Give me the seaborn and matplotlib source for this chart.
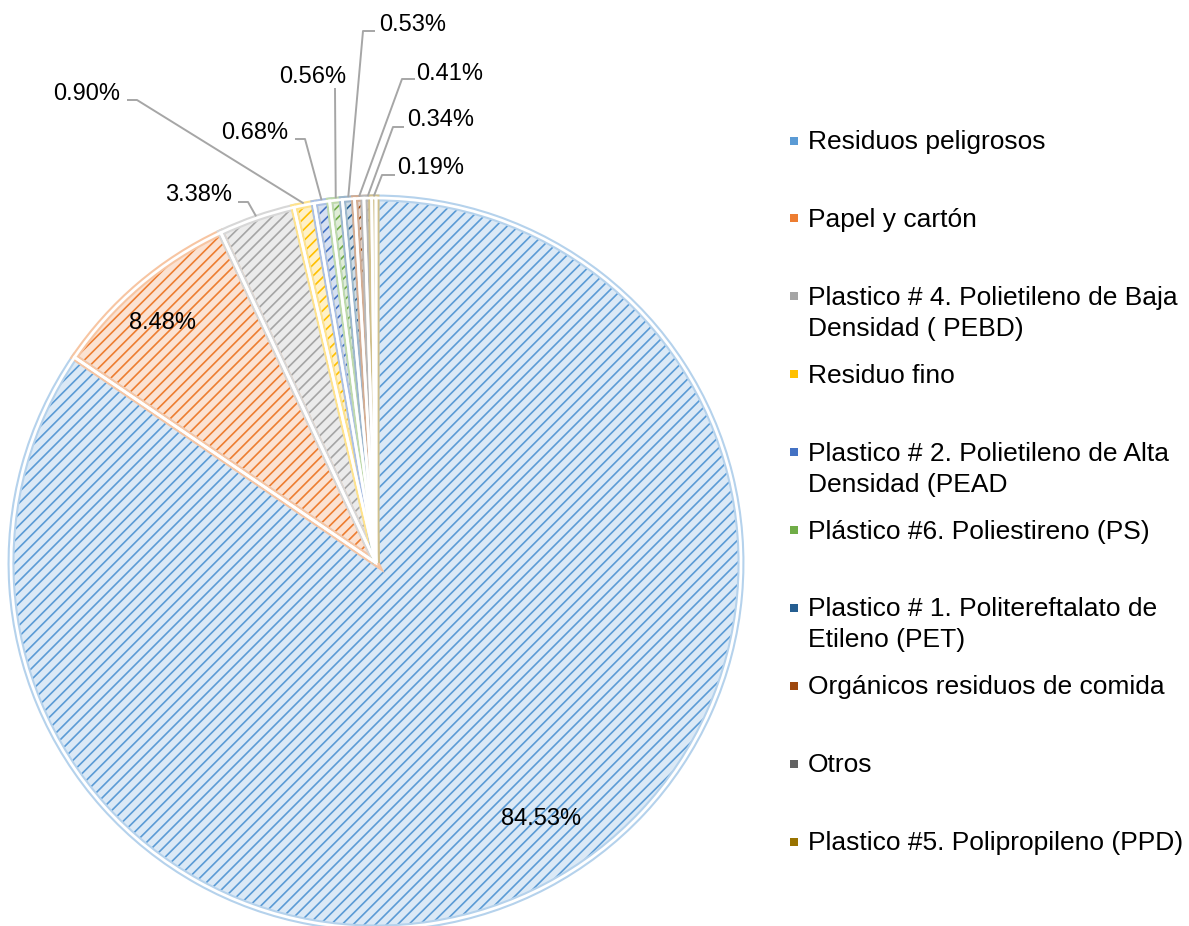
import numpy as np
import matplotlib
matplotlib.use("Agg")
import matplotlib.pyplot as plt
import seaborn as sns
from matplotlib.colors import to_rgb

# ---------------- data ----------------
categories = [
    "Residuos peligrosos",
    "Papel y cartón",
    "Plastico # 4. Polietileno de Baja\nDensidad ( PEBD)",
    "Residuo fino",
    "Plastico # 2. Polietileno de Alta\nDensidad (PEAD",
    "Plástico #6. Poliestireno (PS)",
    "Plastico # 1. Politereftalato de\nEtileno (PET)",
    "Orgánicos residuos de comida",
    "Otros",
    "Plastico #5. Polipropileno (PPD)",
]
values = [84.53, 8.48, 3.38, 0.90, 0.68, 0.56, 0.53, 0.41, 0.34, 0.19]
value_labels = ["84.53%", "8.48%", "3.38%", "0.90%", "0.68%", "0.56%",
                "0.53%", "0.41%", "0.34%", "0.19%"]
colors = ["#5B9BD5", "#ED7D31", "#A5A5A5", "#FFC000", "#4472C4",
          "#70AD47", "#255E91", "#9E480E", "#636363", "#997300"]

# ---------------- layout (pixels) ----------------
W, H, DPI = 1189, 926, 100
CX, CY, R = 376, 563, 365

# label centres (px) and leader line (text end, elbow) for outside labels
label_px = [(541, 817), (163, 321), (199, 193), (87, 92), (255, 131),
            (313, 75), (413, 23), (450, 72), (441, 118), (431, 166)]
leader_px = {2: [(238, 202), (248, 202)],
             3: [(127, 100), (137, 100)],
             4: [(295, 139), (305, 139)],
             5: [(335, 88), (335, 89)],
             6: [(375, 31), (363, 31)],
             7: [(415, 79), (402, 79)],
             8: [(404, 127), (393, 127)],
             9: [(395, 175), (382, 175)]}

LEG_X_MARK, LEG_X_TEXT = 794, 808
LEG_BASE0, LEG_STEP, LEG_LINE = 149, 77.9, 31


def P(px, py):
    return (px - CX) / R, (CY - py) / R


sns.set_style("white")
plt.rcParams["font.family"] = ["Liberation Sans", "DejaVu Sans"]
plt.rcParams["hatch.linewidth"] = 1.2

pal = sns.color_palette(colors)
tints = [tuple(0.22 * np.array(to_rgb(c)) + 0.78) for c in pal]
bands = [tuple(0.45 * np.array(to_rgb(c)) + 0.55) for c in pal]

fig = plt.figure(figsize=(W / DPI, H / DPI), dpi=DPI)
ax = fig.add_axes([0, 0, 1, 1])

wedges, _ = ax.pie(values, colors=tints, startangle=90, counterclock=False,
                   radius=1, center=(0, 0), wedgeprops=dict(linewidth=0))
for w, c in zip(wedges, pal):
    w.set_hatch("///")
    w.set_edgecolor(c)
    w.set_linewidth(0)
# light band along the inside of each wedge edge
band_w, _ = ax.pie(values, startangle=90, counterclock=False, radius=1,
                   wedgeprops=dict(fill=False, linewidth=5))
for w, wb, c in zip(wedges, band_w, bands):
    wb.set_edgecolor(c)
    wb.set_clip_path(w)
ax.pie(values, startangle=90, counterclock=False, radius=1,
       wedgeprops=dict(fill=False, edgecolor="white", linewidth=2.0))

# labels and leader lines
vals = np.array(values)
cum = np.cumsum(vals)
mid = np.deg2rad(90 - 360 * (cum - vals / 2) / vals.sum())
for i, lab in enumerate(value_labels):
    tx, ty = P(label_px[i][0], label_px[i][1] + 8.4)
    ax.text(tx, ty, lab, ha="center", va="baseline", fontsize=17, color="#000000")
    if i in leader_px:
        (ex, ey), (bx, by) = [P(*p) for p in leader_px[i]]
        wx, wy = np.cos(mid[i]) * 1.005, np.sin(mid[i]) * 1.005
        ax.plot([ex, bx, wx], [ey, by, wy], color="#A6A6A6", lw=1.4,
                solid_capstyle="butt", zorder=1)

# legend drawn manually (Excel-like evenly spaced slots)
for i, (cat, c) in enumerate(zip(categories, pal)):
    base = LEG_BASE0 + LEG_STEP * i
    mx, my = P(LEG_X_MARK, base - 8.5)
    ax.scatter([mx], [my], marker="s", s=40, color=c, linewidths=0)
    for k, line in enumerate(cat.split("\n")):
        lx, ly = P(LEG_X_TEXT, base + LEG_LINE * k)
        ax.text(lx, ly, line, ha="left", va="baseline", fontsize=19, color="#000000")

ax.set_xlim(-CX / R, (W - CX) / R)
ax.set_ylim((CY - H) / R, CY / R)
ax.set_aspect("auto")
ax.axis("off")

fig.savefig("out.png", dpi=DPI, facecolor="white")
